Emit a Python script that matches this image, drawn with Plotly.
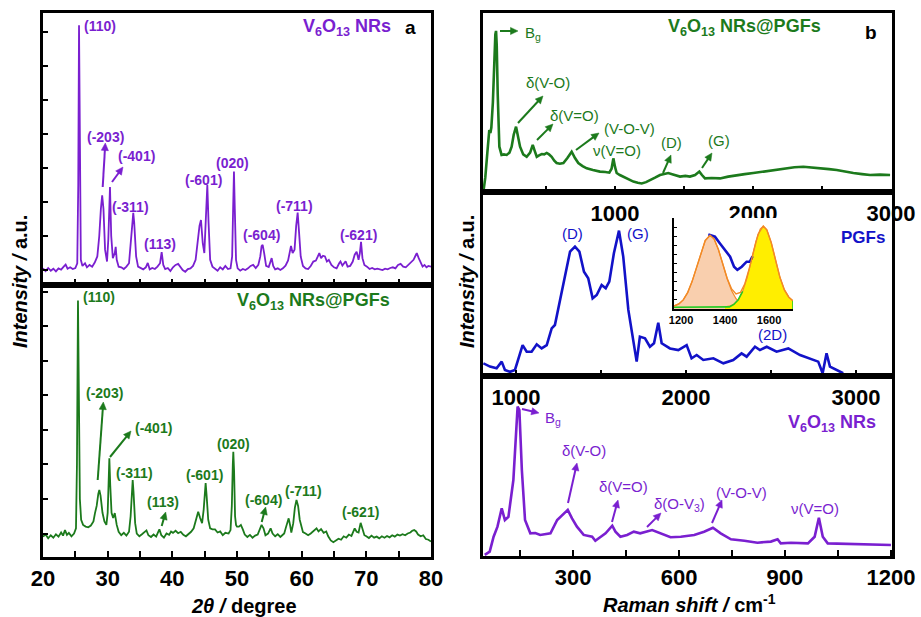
import math
import plotly.graph_objects as go

# ---------------- data ----------------
# XRD, V6O13 NRs (purple, panel a top)
xrd_2theta_nrs = [20.0, 20.4, 20.8, 21.2, 21.6, 22.0, 22.4, 22.8, 23.2, 23.5, 23.8, 24.2, 24.6, 25.0, 25.3, 25.45,
                  25.57, 25.7, 25.85, 26.1, 26.5, 26.8, 27.2, 27.6, 28.0, 28.4, 28.7, 28.95, 29.15, 29.35, 29.6, 29.9,
                  30.1, 30.36, 30.55, 30.8, 31.1, 31.24, 31.4, 31.7, 32.1, 32.5, 32.9, 33.3, 33.6, 33.85, 33.96, 34.1,
                  34.4, 34.7, 35.1, 35.5, 35.9, 36.2, 36.5, 36.9, 37.3, 37.7, 38.1, 38.35, 38.6, 38.9, 39.3, 39.7,
                  40.1, 40.5, 40.9, 41.2, 41.6, 42.0, 42.4, 42.8, 43.2, 43.6, 43.9, 44.2, 44.43, 44.7, 44.95, 45.2,
                  45.41, 45.6, 45.85, 46.2, 46.6, 47.0, 47.4, 47.8, 48.2, 48.6, 49.0, 49.25, 49.4, 49.53, 49.66, 49.85,
                  50.1, 50.5, 50.9, 51.3, 51.7, 52.1, 52.5, 52.9, 53.3, 53.6, 53.8, 53.97, 54.2, 54.5, 54.9, 55.2,
                  55.36, 55.6, 55.9, 56.3, 56.7, 57.1, 57.5, 57.9, 58.2, 58.35, 58.6, 58.9, 59.15, 59.38, 59.6, 59.85,
                  60.2, 60.6, 61.0, 61.4, 61.8, 62.2, 62.5, 62.73, 63.0, 63.3, 63.6, 63.9, 64.2, 64.6, 65.0, 65.4,
                  65.8, 66.0, 66.3, 66.6, 66.8, 67.1, 67.5, 67.9, 68.2, 68.5, 68.8, 69.0, 69.18, 69.4, 69.7, 70.1,
                  70.5, 70.9, 71.3, 71.7, 72.1, 72.5, 72.9, 73.3, 73.7, 74.1, 74.5, 74.9, 75.3, 75.7, 76.1, 76.5,
                  76.9, 77.3, 77.6, 77.8, 78.1, 78.4, 78.7, 79.0, 79.3, 79.6, 80.0]
xrd_int_nrs = [0.5, -0.3, 0.6, -0.2, 0.4, -0.4, 0.5, 0.1, 1.0, 1.6, 0.4, 0.8, 0.3, 0.6, 2.0, 25,
               72, 25, 3, 1.2, 2.0, 0.8, 1.5, 1.0, 2.2, 4, 10, 18, 22, 18, 6, 2.5,
               9, 24.4, 10, 3.5, 5, 6.8, 3, 1, 0.8, 0.3, 1.0, 2, 8, 15, 16.8, 14,
               4, 1, 0.5, 0.2, 0.8, 2.1, 0.2, 0.6, 0.3, 1.0, 2.0, 5.3, 1.5, 0.3, 0.6, -0.3,
               0.8, 1.5, 1.8, 1.0, 0.0, -0.5, 0.3, 0.5, 1.2, 3, 8, 13, 14.7, 8, 5, 15,
               25, 14, 3, 1.0, 0.3, -0.2, 0.8, 0.2, 1.2, 0.3, 0.5, 4, 18, 29, 18, 3,
               0.5, -0.2, 0.3, 0.0, 0.5, 1.2, 1.5, 0.6, 1.5, 4, 7, 7.4, 5, 1.2, 0.9, 2.5,
               3.5, 1.2, 0.2, 0.5, 0.0, 0.5, 1.3, 2.8, 6, 7.1, 5, 6, 13, 16.9, 11, 4,
               1.2, 0.5, 0.3, 1.2, 2.5, 2.8, 4.0, 5.0, 3.5, 4.2, 4.0, 2.5, 3.0, 1.5, 0.8, 0.5,
               2.0, 2.5, 1.3, 2.3, 2.6, 1.0, 1.2, 2.5, 4.5, 5.4, 3.0, 5, 8.3, 3.5, 1.5, 1.0,
               0.3, 0.6, 0.2, 0.4, 0.1, 0.0, 0.4, 0.2, 0.6, 0.8, 0.5, 1.5, 1.8, 1.0, 0.8, 1.5,
               2.2, 3.0, 4.2, 5.0, 3.5, 2.0, 1.0, 1.5, 0.8, 1.2, 1.0]

# XRD, V6O13 NRs@PGFs (green, panel a bottom)
xrd_2theta_pgf = [20.0, 20.4, 20.8, 21.2, 21.6, 22.0, 22.4, 22.8, 23.1, 23.4, 23.7, 24.0, 24.4, 24.8, 25.1, 25.25,
                  25.41, 25.55, 25.7, 25.9, 26.2, 26.6, 27.0, 27.4, 27.8, 28.04, 28.3, 28.55, 28.71, 28.9, 29.2, 29.5,
                  29.8, 30.0, 30.15, 30.26, 30.4, 30.6, 30.85, 31.1, 31.4, 31.7, 32.1, 32.5, 32.9, 33.3, 33.55, 33.75,
                  33.87, 34.0, 34.25, 34.5, 34.9, 35.3, 35.7, 36.0, 36.3, 36.7, 37.1, 37.5, 37.8, 38.0, 38.3, 38.7,
                  39.1, 39.5, 39.8, 40.1, 40.5, 40.9, 41.3, 41.7, 42.1, 42.5, 42.9, 43.3, 43.7, 44.0, 44.3, 44.6,
                  44.85, 45.0, 45.15, 45.3, 45.55, 45.85, 46.2, 46.6, 47.0, 47.4, 47.8, 48.2, 48.7, 49.0, 49.2, 49.35,
                  49.43, 49.55, 49.7, 49.85, 50.0, 50.3, 50.6, 50.9, 51.2, 51.6, 52.0, 52.4, 52.8, 53.2, 53.5, 53.8,
                  54.1, 54.4, 54.8, 55.2, 55.5, 55.9, 56.3, 56.7, 57.0, 57.3, 57.6, 57.85, 57.99, 58.2, 58.4, 58.7,
                  58.95, 59.2, 59.45, 59.7, 60.0, 60.2, 60.6, 61.0, 61.4, 61.8, 62.1, 62.3, 62.6, 63.0, 63.4, 63.8,
                  64.1, 64.5, 64.9, 65.3, 65.7, 66.1, 66.5, 66.9, 67.3, 67.7, 68.0, 68.2, 68.5, 68.8, 69.12, 69.4,
                  69.7, 70.0, 70.4, 70.8, 71.2, 71.6, 72.0, 72.4, 72.8, 73.2, 73.6, 74.0, 74.4, 74.8, 75.2, 75.6,
                  76.0, 76.4, 76.8, 77.1, 77.4, 77.7, 78.0, 78.4, 78.8, 79.2, 79.6, 80.0]
xrd_int_pgf = [-0.9, -0.3, -1.4, -0.5, -1.2, -0.2, -0.9, 0.3, -0.6, 1.0, -0.4, 0.2, -0.8, 0.0, 1.5, 20,
               67.5, 40, 10, 4, 2.5, 2.0, 1.8, 2.3, 3.5, 5.9, 8, 11.5, 12.6, 11, 6, 3.5,
               2.5, 6, 16, 21.8, 14, 6, 4.5, 5.9, 2.5, 0.5, -0.5, 0.2, -0.6, 0.5, 5, 13,
               15.5, 12, 3, 0.0, -0.8, -0.2, 0.3, 0.9, -0.5, -1.0, -0.3, -0.9, 0.4, 1.2, -0.5, -1.2,
               0.0, -0.4, 0.6, 0.2, 0.8, 0.1, 0.5, -0.4, -0.8, -0.2, 0.5, 1.5, 4, 6.3, 4.5, 3,
               7, 11, 14.6, 11, 4, 1.5, 1.2, 1.2, 0.3, 0.6, -0.5, 0.2, 0.0, 1.0, 8, 20,
               23.7, 18, 5, 2.5, 2.0, 2.0, 2.5, 1.2, -0.3, -1.0, -0.4, -1.2, -0.6, -0.3, 1.0, 2.5,
               1.5, -0.5, 0.0, 1.5, 0.0, -0.8, -0.2, -1.0, -0.5, 0.0, 2, 4, 4.4, 2.5, 0.3, 3,
               7.5, 9.7, 8, 4, 1.5, 0.4, 0.0, -0.5, 0.0, 0.8, 1.2, 1.5, 0.6, 1.3, 0.2, 0.6,
               -0.8, -2.0, -2.5, -2.0, -1.5, -1.8, -0.8, -1.2, -0.3, -0.7, 0.5, 1.5, 0.5, 0.3, 3.1, 1.0,
               -0.5, -0.8, -1.3, -0.6, -1.2, -0.9, -1.4, -0.8, -1.2, -0.7, -1.1, -0.5, -0.9, -0.3, -0.6, -0.2,
               -0.5, 0.0, 0.3, 0.8, 1.0, 0.6, -0.3, -0.8, -0.5, -1.6, -1.8, -2.3]

# Raman, V6O13 NRs@PGFs (green, panel b top)
raman_shift_nrs_pgf = [46, 60, 75, 89, 97, 104, 115, 126, 133, 138, 143, 150, 156, 162, 178, 195, 215, 235, 251,
                       266, 283, 297, 312, 335, 360, 385, 404, 418, 433, 450, 469, 487, 505, 522, 541, 560, 577,
                       600, 626, 655, 686, 710, 734, 765, 795, 840, 891, 930, 959, 975, 988, 1000, 1012, 1035,
                       1061, 1100, 1133, 1165, 1193, 1225, 1254, 1290, 1326, 1360, 1386, 1420, 1471, 1510, 1543,
                       1580, 1611, 1630, 1652, 1700, 1761, 1820, 1882, 1940, 2002, 2060, 2123, 2180, 2244, 2300,
                       2365, 2420, 2486, 2550, 2606, 2670, 2727, 2790, 2848, 2920, 2993]
raman_int_nrs_pgf = [0, 8, 22, 34.6, 33, 36, 50, 78, 88, 90, 82, 55, 35, 25.3, 20.7, 21, 20.7, 22, 25.3,
                     32, 36.5, 31, 25.3, 21, 19.7, 22, 26.3, 23, 19.7, 20.5, 21.2, 21, 21.8, 21, 19.7, 17.5, 16.2,
                     15.8, 16.2, 19, 22.5, 19, 16.2, 14.5, 13.2, 12.3, 11.4, 11.2, 10.8, 13, 18.8, 14, 10.6, 9.5,
                     8.6, 7, 5.8, 5.2, 4.8, 5.5, 6.5, 8, 9.5, 10, 10.6, 9.8, 8.6, 9, 8.6,
                     9.5, 11.4, 9.5, 7.6, 7.8, 7.6, 8.6, 9.5, 10, 10.6, 11.3, 11.9, 12.5, 13.2, 13.8,
                     14.1, 13.8, 13.2, 12.8, 12.3, 11.3, 10.6, 10, 9.5, 9.7, 9.5]

# Raman, PGFs (blue, panel b middle)
raman_shift_pgf = [808, 847, 886, 916, 935, 965, 994, 1024, 1039, 1063, 1092, 1122, 1151, 1181, 1210, 1229, 1259,
                   1288, 1318, 1347, 1373, 1400, 1425, 1451, 1475, 1504, 1528, 1549, 1576, 1606, 1631, 1661, 1684,
                   1710, 1729, 1759, 1788, 1812, 1837, 1857, 1906, 1955, 2004, 2033, 2063, 2102, 2161, 2220, 2278,
                   2327, 2357, 2406, 2435, 2475, 2533, 2602, 2671, 2729, 2778, 2804, 2827, 2847, 2886, 2925]
raman_int_pgf = [6.9, 5.1, 4.2, 7.8, 3.3, 2.3, 3.3, 12.3, 16.8, 13.2, 13.2, 17.2, 15.0, 16.8, 25.9, 27.7, 41.3,
                 55.8, 67.6, 70.3, 67.6, 56.7, 53.1, 42.2, 44.0, 49.5, 47.7, 51.3, 66.7, 79.0, 64.9, 35.9, 21.4,
                 7.8, 21.4, 20.5, 15.9, 17.8, 29.0, 17.8, 15.0, 14.1, 16.8, 9.6, 11.4, 8.7, 9.6, 6.9, 8.7,
                 12.3, 10.5, 15.9, 14.1, 15.9, 13.2, 15.0, 11.4, 9.6, 7.8, 1.5, 12.3, 5.1, 3.3, 1.5]

# Raman, V6O13 NRs (purple, panel b bottom)
raman_shift_nrs = [50, 64, 75, 86, 98, 107, 117, 131, 143, 148, 155, 164, 179, 193, 207, 236, 255, 285, 297, 311,
                   330, 354, 363, 377, 392, 411, 420, 434, 453, 472, 490, 524, 548, 576, 605, 643, 671, 696, 718,
                   747, 785, 822, 860, 879, 888, 917, 965, 984, 996, 1007, 1021, 1068, 1115, 1163, 1200]
raman_int_nrs = [0.6, 2.4, 10.7, 16.3, 26.5, 20, 21.8, 42.2, 83, 81, 47.8, 20, 12.6, 12.8, 11.7, 12.6, 20, 25.6,
                 20.9, 16.3, 11.7, 10.7, 8.5, 10.7, 12.6, 16.8, 13.5, 10.7, 11.7, 13.5, 12.6, 14.4, 12.6, 10.4,
                 10.7, 11.7, 13.5, 15.7, 12.6, 9.3, 8.5, 7.4, 8, 9.3, 7, 7.4, 7, 10.7, 21.3, 10.7, 7, 6.7, 6.7,
                 6.1, 6.1]

# Inset: peak fit of the PGFs D and G bands
inset_shift_d = [1168, 1190, 1210, 1230, 1250, 1270, 1290, 1310, 1332, 1350, 1370, 1390, 1410, 1430, 1450, 1470,
                 1490, 1510, 1530]
inset_d_band = [3.3, 5.6, 10.0, 18.0, 30.1, 45.7, 62.2, 75.3, 81.0, 77.1, 65.3, 49.1, 33.0, 20.0, 11.3, 6.2,
                3.7, 2.6, 2.2]
inset_shift_g = [1400, 1420, 1440, 1460, 1480, 1500, 1520, 1540, 1560, 1574, 1590, 1610, 1630, 1650, 1670, 1690, 1709]
inset_g_band = [2.3, 3.1, 5.2, 10.0, 19.4, 34.3, 53.9, 73.9, 87.8, 91.0, 87.0, 73.0, 53.5, 34.5, 21.0, 13.0, 9.0]
inset_shift_fit = [1168, 1190, 1210, 1230, 1250, 1270, 1290, 1310, 1332, 1350, 1370, 1390, 1410, 1430, 1450, 1470,
                   1490, 1510, 1530, 1550, 1574, 1590, 1610, 1630, 1650, 1670, 1690, 1709]
inset_fit = [3.3, 5.6, 10.0, 18.0, 30.1, 45.7, 62.2, 75.3, 81.0, 77.1, 65.3, 49.3, 33.6, 22.0, 16.5, 18.2,
             27.8, 44.3, 64.4, 82.2, 91.0, 87.0, 73.0, 53.5, 34.5, 21.0, 13.0, 9.0]
inset_shift_exp = [1324, 1354, 1377, 1400, 1423, 1441, 1456, 1476, 1498, 1513, 1525]
inset_exp = [82, 79.5, 72, 65, 57.5, 46.5, 43, 46.5, 52, 52, 58]
inset_shift_base = [1168, 1300, 1400, 1420, 1440, 1460, 1480, None, 1709, 1709]
inset_base = [2, 2, 2, 2.3, 5.0, 10.0, 19.4, None, 0, 9.0]

# tick values
xrd_ticks = [20, 30, 40, 50, 60, 70, 80]
xrd_minor = [25, 35, 45, 55, 65, 75]
top_ticks = [1000, 2000, 3000]
top_minor = [500, 1500, 2500]
mid_ticks = [1000, 2000, 3000]
mid_minor = [1500, 2500]
bot_ticks = [300, 600, 900, 1200]
bot_minor = [150, 450, 750, 1050]
inset_ticks = [1200, 1400, 1600]

# ---------------- styling ----------------
W, H = 921, 617
FONT = "Liberation Sans, Arial, sans-serif"
PURPLE = "#7a1fd0"
GREEN = "#1c7a1c"
BLUE = "#1212c8"
PEACH = "#f9cfae"
YELLOW = "#ffee00"
ORANGE = "#f28a26"
LGREEN = "#22cc22"


def fx(p):
    return p / W


def fy(p):
    return 1 - p / H


fig = go.Figure()
fig.add_trace(go.Scatter(x=xrd_2theta_nrs, y=xrd_int_nrs, xaxis="x", yaxis="y", mode="lines",
                         line=dict(color=PURPLE, width=1.8)))
fig.add_trace(go.Scatter(x=xrd_2theta_pgf, y=xrd_int_pgf, xaxis="x2", yaxis="y2", mode="lines",
                         line=dict(color=GREEN, width=1.8)))
fig.add_trace(go.Scatter(x=raman_shift_nrs_pgf, y=raman_int_nrs_pgf, xaxis="x3", yaxis="y3", mode="lines",
                         line=dict(color=GREEN, width=2.6)))
fig.add_trace(go.Scatter(x=raman_shift_pgf, y=raman_int_pgf, xaxis="x4", yaxis="y4", mode="lines",
                         line=dict(color=BLUE, width=2.6)))
fig.add_trace(go.Scatter(x=raman_shift_nrs, y=raman_int_nrs, xaxis="x5", yaxis="y5", mode="lines",
                         line=dict(color=PURPLE, width=2.6)))
# inset
fig.add_trace(go.Scatter(x=inset_shift_d, y=inset_d_band, xaxis="x6", yaxis="y6", mode="lines", fill="tozeroy",
                         fillcolor=PEACH, line=dict(color=ORANGE, width=1.2)))
fig.add_trace(go.Scatter(x=inset_shift_g, y=inset_g_band, xaxis="x6", yaxis="y6", mode="lines", fill="tozeroy",
                         fillcolor=YELLOW, line=dict(color=ORANGE, width=1.2)))
fig.add_trace(go.Scatter(x=inset_shift_base, y=inset_base, xaxis="x6", yaxis="y6", mode="lines",
                         line=dict(color=LGREEN, width=1.6)))
fig.add_trace(go.Scatter(x=inset_shift_exp, y=inset_exp, xaxis="x6", yaxis="y6", mode="lines",
                         line=dict(color=BLUE, width=2.6)))
fig.add_trace(go.Scatter(x=inset_shift_fit, y=inset_fit, xaxis="x6", yaxis="y6", mode="lines",
                         line=dict(color=ORANGE, width=1.4)))

frame = dict(showline=True, linecolor="black", linewidth=2.5, mirror=True, showgrid=False, zeroline=False,
             automargin=False)
tickfont = dict(family=FONT, size=22, color="black", weight="bold")
xt = dict(ticks="inside", ticklen=6, tickwidth=2, tickcolor="black")


def minor(vals):
    return dict(tickmode="array", tickvals=vals, ticks="inside", ticklen=6, tickwidth=2, tickcolor="black",
                showgrid=False)


fig.update_layout(
    width=W, height=H, margin=dict(l=0, r=0, t=0, b=0, autoexpand=False), showlegend=False,
    paper_bgcolor="white", plot_bgcolor="white",
    xaxis=dict(domain=[fx(43), fx(431)], anchor="y", range=[20, 80], tickmode="array", tickvals=xrd_ticks,
               minor=minor(xrd_minor), showticklabels=False, **xt, **frame),
    yaxis=dict(domain=[fy(285), fy(13)], anchor="x", range=[-4.4, 75.6], tickmode="linear", tick0=0, dtick=10,
               ticks="inside", ticklen=5, tickwidth=2, tickcolor="black", showticklabels=False, **frame),
    xaxis2=dict(domain=[fx(43), fx(431)], anchor="y2", range=[20, 80], tickmode="array", tickvals=xrd_ticks,
                minor=minor(xrd_minor), tickfont=tickfont, **xt, **frame),
    yaxis2=dict(domain=[fy(557), fy(285)], anchor="x2", range=[-6.8, 72], tickmode="linear", tick0=0, dtick=10,
                ticks="inside", ticklen=5, tickwidth=2, tickcolor="black", showticklabels=False, **frame),
    xaxis3=dict(domain=[fx(483), fx(892)], anchor="y3", range=[43.5, 3007], tickmode="array", tickvals=top_ticks,
                minor=minor(top_minor), tickfont=tickfont, **xt, **frame),
    yaxis3=dict(domain=[fy(192), fy(13)], anchor="x3", range=[0, 100], ticks="", showticklabels=False, **frame),
    xaxis4=dict(domain=[fx(483), fx(892)], anchor="y4", range=[806, 3212], tickmode="array", tickvals=mid_ticks,
                minor=minor(mid_minor), tickfont=tickfont, **xt, **frame),
    yaxis4=dict(domain=[fy(376), fy(192)], anchor="x4", range=[0, 100], ticks="", showticklabels=False, **frame),
    xaxis5=dict(domain=[fx(483), fx(892)], anchor="y5", range=[45, 1203], tickmode="array", tickvals=bot_ticks,
                minor=minor(bot_minor), tickfont=tickfont, **xt, **frame),
    yaxis5=dict(domain=[fy(556), fy(376)], anchor="x5", range=[0, 100], ticks="", showticklabels=False, **frame),
    xaxis6=dict(domain=[fx(674), fx(793)], anchor="y6", range=[1168, 1709], tickmode="array", tickvals=inset_ticks,
                ticks="", showline=True, linecolor="black", linewidth=1.5, showgrid=False, zeroline=False,
                automargin=False, tickfont=dict(family=FONT, size=11, color="black", weight="bold")),
    yaxis6=dict(domain=[fy(309), fy(218)], anchor="x6", range=[0, 100], tickmode="linear", tick0=0, dtick=10,
                ticks="inside", ticklen=3, tickwidth=1, tickcolor="black", showticklabels=False, showline=True,
                linecolor="black", linewidth=1.5, showgrid=False, zeroline=False, automargin=False),
)

ann = []
shapes = []


def label(text, x, y, color, size=14, bold=True, angle=0):
    t = f"<b>{text}</b>" if bold else text
    ann.append(dict(text=t, x=fx(x), y=fy(y), xref="paper", yref="paper", showarrow=False, xanchor="center",
                    yanchor="middle", textangle=angle, font=dict(family=FONT, size=size, color=color)))


def arrow(x0, y0, x1, y1, color, width=2.0, head=7.5, half=3.6):
    """Arrow from tail (x0,y0) to head (x1,y1), in page pixels."""
    d = math.hypot(x1 - x0, y1 - y0)
    ux, uy = (x1 - x0) / d, (y1 - y0) / d
    bx, by = x1 - ux * head, y1 - uy * head
    shapes.append(dict(type="line", xref="paper", yref="paper", x0=fx(x0), y0=fy(y0), x1=fx(bx + ux),
                       y1=fy(by + uy), line=dict(color=color, width=width)))
    pts = [(x1, y1), (bx - uy * half, by + ux * half), (bx + uy * half, by - ux * half)]
    path = "M " + " L ".join(f"{fx(px):.5f},{fy(py):.5f}" for px, py in pts) + " Z"
    shapes.append(dict(type="path", xref="paper", yref="paper", path=path, fillcolor=color,
                       line=dict(color=color, width=0.5)))


V6 = "V<sub>6</sub>O<sub>13</sub> NRs"
# panel a top
for t, x, y in [("(110)", 100, 26), ("(-203)", 105, 137), ("(-401)", 136, 156), ("(-311)", 130.5, 207),
                ("(113)", 160, 244), ("(-601)", 203, 180), ("(020)", 232, 163), ("(-604)", 261, 235),
                ("(-711)", 294, 206), ("(-621)", 358, 235)]:
    label(t, x, y, PURPLE, 14)
arrow(102.7, 187, 105.3, 143, PURPLE)
arrow(112, 182, 123, 167, PURPLE)
label(V6, 346.5, 27, PURPLE, 18)
label("a", 410, 28, "black", 19)
# panel a bottom
for t, x, y in [("(110)", 99, 297), ("(-203)", 104.5, 393), ("(-401)", 153.5, 428), ("(-311)", 134, 473),
                ("(113)", 163, 502), ("(-601)", 204, 475), ("(020)", 233, 444), ("(-604)", 263, 500),
                ("(-711)", 303.5, 491), ("(-621)", 360.5, 512)]:
    label(t, x, y, GREEN, 14)
arrow(97.7, 480, 103.3, 402, GREEN)
arrow(110, 457, 131, 431, GREEN)
arrow(161.7, 526, 165.7, 512, GREEN)
arrow(261.7, 522, 265.7, 507, GREEN)
label(V6 + "@PGFs", 313, 301, GREEN, 18)
# panel b top
arrow(500, 31, 518, 31, GREEN)
label("B<sub>g</sub>", 532.5, 33, GREEN, 15, bold=False)
label("δ(V-O)", 548, 83, GREEN, 15, bold=False)
arrow(518, 123, 543, 96, GREEN)
label("δ(V=O)", 574.5, 115, GREEN, 15, bold=False)
arrow(537, 140, 553, 124, GREEN)
label("(V-O-V)", 629, 128, GREEN, 15, bold=False)
arrow(576, 150, 599, 133, GREEN)
label("ν(V=O)", 617, 150, GREEN, 15, bold=False)
label("(D)", 671.5, 143, GREEN, 15, bold=False)
arrow(663, 173, 671, 155, GREEN)
label("(G)", 719, 140, GREEN, 15, bold=False)
arrow(702, 168, 712, 153, GREEN)
label(V6 + "@PGFs", 744.5, 28, GREEN, 18)
label("b", 871, 32, "black", 19)
# panel b middle
label("(D)", 572.5, 233, BLUE, 15, bold=False)
label("(G)", 637.5, 233, BLUE, 15, bold=False)
label("PGFs", 862.5, 238, BLUE, 17)
label("(2D)", 772.5, 334, BLUE, 15, bold=False)
# panel b bottom
arrow(522, 409, 539, 413, PURPLE)
label("B<sub>g</sub>", 552.5, 418, PURPLE, 15, bold=False)
label("δ(V-O)", 583.5, 451, PURPLE, 15, bold=False)
arrow(568, 503, 577, 463, PURPLE)
label("δ(V=O)", 623, 487, PURPLE, 15, bold=False)
arrow(612, 522, 618, 500, PURPLE)
label("δ(O-V<sub>3</sub>)", 679, 504, PURPLE, 15, bold=False)
arrow(647, 527, 661, 513, PURPLE)
label("(V-O-V)", 741.5, 492, PURPLE, 15, bold=False)
arrow(712, 523, 722, 500, PURPLE)
label("ν(V=O)", 814.5, 508, PURPLE, 15, bold=False)
label(V6, 831.5, 423, PURPLE, 18)
# axis titles
label("<i>Intensity /</i> a.u.", 20, 282, "black", 20, angle=-90)
label("<i>Intensity /</i> a.u.", 467, 282, "black", 20, angle=-90)
label("<i>2θ /</i> degree", 244, 606, "black", 20)
label("<i>Raman shift /</i> cm<sup>-1</sup>", 689, 603, "black", 20)

fig.update_layout(annotations=ann, shapes=shapes)

fig.write_html("out.html", config={"displayModeBar": False},
               post_script="document.body.style.margin='0';document.body.style.overflow='hidden';")
